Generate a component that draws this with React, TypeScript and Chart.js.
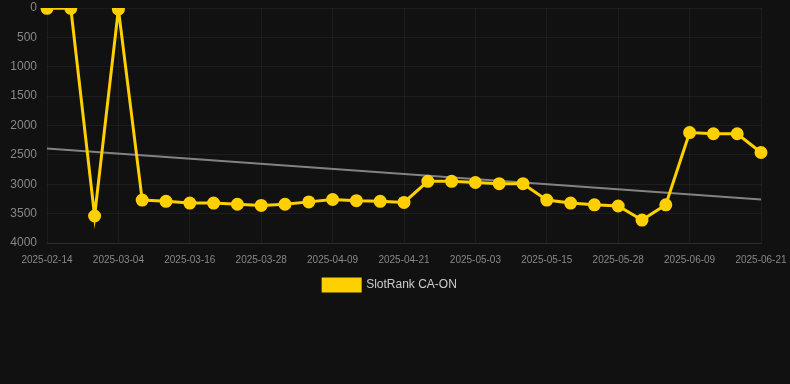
import React, { useEffect, useRef } from "react";
import { Chart, registerables } from "chart.js";

Chart.register(...registerables);

const dates = [
  "2025-02-14", "2025-02-20", "2025-02-26", "2025-03-04", "2025-03-08", "2025-03-12",
  "2025-03-16", "2025-03-20", "2025-03-24", "2025-03-28", "2025-04-01", "2025-04-05",
  "2025-04-09", "2025-04-13", "2025-04-17", "2025-04-21", "2025-04-25", "2025-04-29",
  "2025-05-03", "2025-05-07", "2025-05-11", "2025-05-15", "2025-05-19", "2025-05-23",
  "2025-05-28", "2025-06-01", "2025-06-05", "2025-06-09", "2025-06-13", "2025-06-17",
  "2025-06-21",
];

const rankValues = [
  5, 5, 3540, 20, 3270, 3290, 3320, 3320, 3340, 3360, 3340, 3300,
  3260, 3280, 3290, 3310, 2950, 2950, 2970, 2990, 2990, 3270, 3320, 3350,
  3370, 3610, 3350, 2120, 2140, 2140, 2460,
];

const trendStart = 2390;
const trendEnd = 3260;

const yTicks = [0, 500, 1000, 1500, 2000, 2500, 3000, 3500, 4000];

export default function App() {
  const ref = useRef<HTMLCanvasElement | null>(null);

  useEffect(() => {
    if (!ref.current) return;
    const trend = dates.map((_, i) =>
      i === 0 ? trendStart : i === dates.length - 1 ? trendEnd : null
    );
    const chart = new Chart(ref.current, {
      type: "line",
      data: {
        labels: dates,
        datasets: [
          {
            label: "SlotRank CA-ON",
            data: rankValues,
            borderColor: "#FFD000",
            backgroundColor: "#FFD000",
            borderWidth: 3,
            pointRadius: 5,
            pointHoverRadius: 5,
            pointBackgroundColor: "#FFD000",
            pointBorderColor: "#FFD000",
            tension: 0,
            order: 1,
          },
          {
            label: "trend",
            data: trend as any,
            borderColor: "rgba(150,150,150,0.85)",
            backgroundColor: "rgba(150,150,150,0.85)",
            borderWidth: 2,
            pointRadius: 0,
            spanGaps: true,
            tension: 0,
            order: 2,
          },
        ],
      },
      options: {
        animation: false,
        responsive: false,
        maintainAspectRatio: false,
        layout: { padding: { top: 5, right: 20, bottom: 83, left: 10 } },
        plugins: {
          tooltip: { enabled: false },
          legend: {
            position: "bottom",
            labels: {
              color: "#cccccc",
              font: { family: "Liberation Sans, Arial, sans-serif", size: 12 },
              boxWidth: 37,
              boxHeight: 12,
              padding: 2,
              filter: (item) => item.text !== "trend",
            },
          },
        },
        scales: {
          x: {
            type: "category",
            grid: { color: "rgba(255,255,255,0.05)", drawTicks: false },
            border: { color: "rgba(255,255,255,0.08)" },
            afterFit: (s: any) => {
              s.paddingLeft = 0;
              s.paddingRight = 29;
            },
            ticks: {
              color: "#888888",
              font: { family: "Liberation Sans, Arial, sans-serif", size: 10 },
              maxRotation: 0,
              autoSkip: true,
              padding: 11,
              callback: function (_v, i) {
                return i % 3 === 0 ? dates[i] : null;
              },
            },
          },
          y: {
            reverse: true,
            min: 0,
            max: 4000,
            afterBuildTicks: (axis) => {
              axis.ticks = yTicks.map((v) => ({ value: v }));
            },
            afterFit: (s: any) => {
              s.paddingTop = 0;
              s.paddingBottom = 0;
              s.width = 37;
            },
            grid: { color: "rgba(255,255,255,0.05)", drawTicks: false },
            border: { display: false },
            ticks: {
              color: "#888888",
              font: { family: "Liberation Sans, Arial, sans-serif", size: 12 },
              padding: 10,
              callback: (v) => String(v),
            },
          },
        },
      },
    });
    return () => chart.destroy();
  }, []);

  return (
    <div
      style={{
        position: "fixed",
        left: 0,
        top: 0,
        width: 790,
        height: 384,
        background: "#111111",
        overflow: "hidden",
      }}
    >
      <canvas
        ref={ref}
        width={790}
        height={384}
        style={{ display: "block", position: "absolute", left: 0, top: 0 }}
      />
    </div>
  );
}
